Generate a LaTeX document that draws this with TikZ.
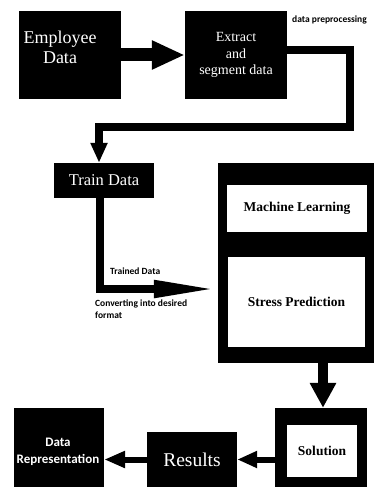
\documentclass[tikz,border=0pt]{standalone}
\usepackage{fontspec}
\setmainfont{Liberation Serif}
\newfontfamily\calib{Carlito}
\usepackage{tikz}
\usetikzlibrary{arrows.meta}

\begin{document}
\begin{tikzpicture}[x=1pt,y=-1pt,
  blk/.style={fill=black,text=white,inner sep=0pt,align=center},
  wht/.style={fill=white,text=black,inner sep=0pt,align=center},
  note/.style={font=\calib\bfseries\fontsize{9.5}{12}\selectfont,inner sep=0pt,align=left},
  link/.style={line width=8pt,-{Triangle[length=20pt,width=16pt]}}]
  \useasboundingbox (0,0) rectangle (376,487);

  \node (emp) at (70,55)[blk,minimum width=102,minimum height=88]{};
  \node (emptext) at (60,47)[blk,font=\fontsize{18}{20}\selectfont]{Employee\\Data};
  \node (ext) at (236,55)[blk,minimum width=102,minimum height=88,font=\fontsize{14}{16.5}\selectfont]{Extract\\and\\segment data};
  \node (train) at (104,180.5)[blk,minimum width=100,minimum height=35,font=\fontsize{16.5}{18}\selectfont]{Train Data};

  \node (model) at (296,263)[blk,minimum width=156,minimum height=200]{};
  \node (ml) at (297,208.5)[wht,minimum width=140,minimum height=47,font=\bfseries\fontsize{13.5}{15}\selectfont]{Machine Learning};
  \node (stress) at (296.5,302)[wht,minimum width=137,minimum height=90,font=\bfseries\fontsize{13.5}{15}\selectfont]{Stress Prediction};

  \node (sol) at (321,447.5)[blk,minimum width=92,minimum height=79]{};
  \node (soltext) at (322,451)[wht,minimum width=70,minimum height=52,font=\bfseries\fontsize{13.5}{15}\selectfont]{Solution};
  \node (res) at (192,459.5)[blk,minimum width=90,minimum height=55,font=\fontsize{19.5}{21}\selectfont]{Results};
  \node (rep) at (59,447.5)[blk,minimum width=90,minimum height=79]{};
  \node (reptext) at (58,452)[blk,font=\calib\bfseries\fontsize{13}{17}\selectfont]{Data\\Representation};

  \node (pre) at (292,20)[note,anchor=west]{data preprocessing};
  \node (trained) at (110,271)[note,anchor=west]{Trained Data};
  \node (conv) at (95,300)[note,anchor=north west]{Converting into desired\\format};

  \coordinate (bend) at (350,127);

  \draw[line width=13pt,-{Triangle[length=33pt,width=27pt]}] (emp.east)--(ext.west);
  \draw[link] ([yshift=5pt]ext.east) -| (bend) -| ([xshift=-5pt]train.north);
  \draw[link,-{Triangle[length=64pt,width=16pt]}] ([xshift=-4pt]train.south) |- ([yshift=-26pt]model.west);
  \draw[line width=10pt,-{Triangle[length=25pt,width=25pt]}] ([xshift=27pt]model.south)--([xshift=2pt]sol.north);
  \draw[line width=6pt,-{Triangle[length=20pt,width=16pt]}] (sol.west |- res.east)--(res.east);
  \draw[line width=6pt,-{Triangle[length=21pt,width=16pt]}] (res.west)--(rep.east |- res.west);
\end{tikzpicture}
\end{document}
